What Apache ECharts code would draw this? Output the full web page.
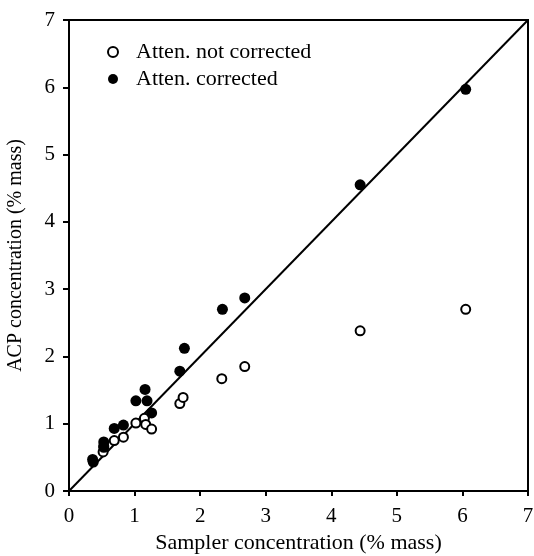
<!DOCTYPE html>
<html><head><meta charset="utf-8">
<script src="https://cdn.jsdelivr.net/npm/echarts@6/dist/echarts.min.js"></script>
<style>html,body{margin:0;padding:0;background:#fff}#c{width:534px;height:556px}</style>
</head><body><div id="c"></div>
<script>
var xTicks = [0,1,2,3,4,5,6,7];
var yTicks = [0,1,2,3,4,5,6,7];
var notCorrected = [[0.52,0.58],[0.53,0.65],[0.69,0.75],[0.83,0.80],[1.02,1.01],[1.15,1.08],[1.17,0.99],[1.26,0.92],[1.69,1.30],[1.74,1.39],[2.33,1.67],[2.68,1.85],[4.44,2.38],[6.05,2.70]];
var corrected = [[0.36,0.47],[0.37,0.43],[0.53,0.73],[0.53,0.67],[0.69,0.93],[0.83,0.98],[1.02,1.34],[1.16,1.51],[1.19,1.34],[1.26,1.16],[1.69,1.78],[1.76,2.12],[2.34,2.70],[2.68,2.87],[4.44,4.55],[6.05,5.97]];
var identityLine = [[0,0],[7,7]];
var xName = 'Sampler concentration (% mass)';
var yName = 'ACP concentration (% mass)';
var names = ['Atten. not corrected','Atten. corrected'];

var font = 'Liberation Serif';
var chart = echarts.init(document.getElementById('c'));
chart.setOption({
  animation:false,
  backgroundColor:'#fff',
  grid:{left:69,right:6,top:20,bottom:65,outerBoundsMode:'none',containLabel:false,show:true,borderColor:'#000',borderWidth:2,backgroundColor:'transparent'},
  legend:{
    orient:'vertical',left:107,top:41,itemGap:5,itemWidth:10,itemHeight:10,padding:0,
    textStyle:{fontFamily:font,fontSize:22,color:'#000',padding:[0,0,0,13]},
    data:[{name:names[0],icon:'circle'},{name:names[1],icon:'circle'}]
  },
  xAxis:{
    type:'value',min:0,max:7,interval:1,
    name:xName,nameLocation:'middle',nameGap:40,
    nameTextStyle:{fontFamily:font,fontSize:22,color:'#000'},
    axisLine:{lineStyle:{color:'#000',width:2}},
    axisTick:{show:true,inside:false,length:5,lineStyle:{color:'#000',width:2}},
    axisLabel:{fontFamily:font,fontSize:21,color:'#000',margin:15,formatter:function(v){return xTicks.indexOf(v)>=0?String(v):'';}},
    splitLine:{show:false}
  },
  yAxis:{
    type:'value',min:0,max:7,interval:1,
    name:yName,nameLocation:'middle',nameGap:43,
    nameTextStyle:{fontFamily:font,fontSize:20,color:'#000'},
    axisLine:{lineStyle:{color:'#000',width:2}},
    axisTick:{show:true,inside:false,length:6,lineStyle:{color:'#000',width:2}},
    axisLabel:{fontFamily:font,fontSize:21,color:'#000',margin:14,formatter:function(v){return yTicks.indexOf(v)>=0?String(v):'';}},
    splitLine:{show:false}
  },
  series:[
    {type:'line',data:identityLine,symbol:'none',lineStyle:{color:'#000',width:2},silent:true,z:1},
    {name:names[0],type:'scatter',data:notCorrected,symbol:'circle',symbolSize:9,
     itemStyle:{color:'#fff',borderColor:'#000',borderWidth:2,opacity:1},z:3},
    {name:names[1],type:'scatter',data:corrected,symbol:'circle',symbolSize:11,
     itemStyle:{color:'#000',borderColor:'#000',borderWidth:0,opacity:1},z:4}
  ]
});
</script></body></html>
